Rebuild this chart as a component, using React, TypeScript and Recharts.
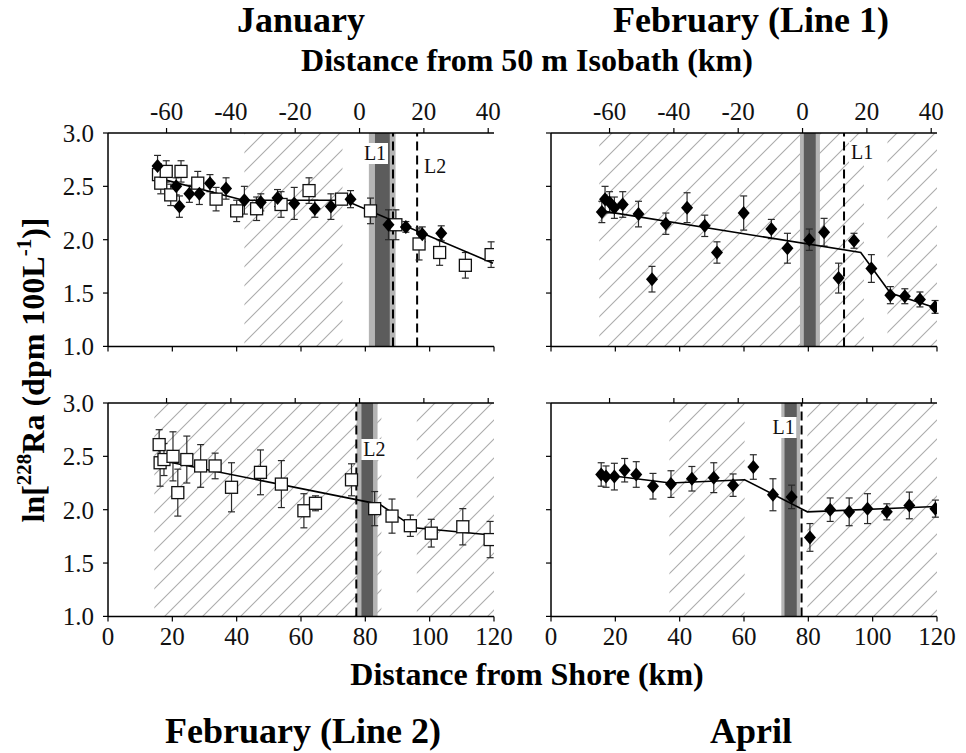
import React from 'react';
import {
  ComposedChart,
  Scatter,
  XAxis,
  YAxis,
  ErrorBar,
  ReferenceArea,
  ReferenceLine,
} from 'recharts';

// ---------- data ----------
const SHORE_TICKS = [0, 20, 40, 60, 80, 100, 120];
const ISOBATH_TICKS = [-60, -40, -20, 0, 20, 40];
const Y_TICKS = [1.0, 1.5, 2.0, 2.5, 3.0];
const ISOBATH_OFFSET = 78.2; // shore km at the 50 m isobath

type Pt = [number, number, number]; // [km from shore, ln Ra-228, error]

const janDiamonds: Pt[] = [
  [15.4, 2.69, 0.1], [21.2, 2.5, 0.08], [22.2, 2.31, 0.1], [25.3, 2.43, 0.08],
  [28.4, 2.43, 0.1], [31.7, 2.53, 0.08], [36.7, 2.48, 0.1], [42.4, 2.37, 0.13],
  [47.5, 2.35, 0.08], [52.7, 2.39, 0.08], [57.9, 2.34, 0.15], [64.3, 2.29, 0.08],
  [69.3, 2.31, 0.12], [75.4, 2.38, 0.08], [87.2, 2.14, 0.14], [92.6, 2.12, 0.05],
  [97.7, 2.05, 0.07], [103.6, 2.06, 0.07],
];
const janSquares: Pt[] = [
  [15.7, 2.61, 0.1], [16.4, 2.53, 0.1], [18.1, 2.64, 0.1], [19.5, 2.42, 0.1],
  [22.7, 2.64, 0.1], [27.9, 2.53, 0.11], [33.6, 2.38, 0.11], [40.0, 2.27, 0.1],
  [46.2, 2.29, 0.11], [53.8, 2.33, 0.12], [62.5, 2.46, 0.12], [72.6, 2.38, 0.04],
  [81.6, 2.27, 0.12], [89.5, 2.14, 0.14], [96.7, 1.96, 0.15], [103.1, 1.88, 0.12],
  [111.1, 1.76, 0.12], [119.1, 1.86, 0.12],
];
const janFit: [number, number][] = [[16.5, 2.57], [42.1, 2.37], [73.6, 2.37], [119.7, 1.78]];

const febL1Diamonds: Pt[] = [
  [15.8, 2.26, 0.1], [16.8, 2.38, 0.12], [18.2, 2.35, 0.1], [19.7, 2.3, 0.1],
  [22.3, 2.33, 0.12], [27.2, 2.24, 0.12], [31.4, 1.63, 0.12], [35.7, 2.15, 0.1],
  [42.3, 2.3, 0.14], [47.8, 2.13, 0.1], [51.6, 1.88, 0.1], [59.9, 2.25, 0.16],
  [68.5, 2.1, 0.09], [73.5, 1.92, 0.14], [80.3, 2.0, 0.1], [84.9, 2.07, 0.13],
  [89.4, 1.64, 0.14], [94.2, 1.99, 0.07], [99.6, 1.73, 0.13], [105.5, 1.48, 0.08],
  [110.0, 1.47, 0.07], [114.7, 1.44, 0.07], [119.4, 1.37, 0.06],
];
const febL1Fit: [number, number][] = [[15.8, 2.27], [96.3, 1.88], [105.5, 1.5], [119.7, 1.36]];

const febL2Squares: Pt[] = [
  [15.9, 2.61, 0.14], [16.2, 2.44, 0.22], [17.4, 2.47, 0.15], [20.2, 2.5, 0.23],
  [21.7, 2.16, 0.22], [24.5, 2.47, 0.22], [28.8, 2.41, 0.2], [33.3, 2.41, 0.12],
  [38.4, 2.21, 0.23], [47.4, 2.35, 0.21], [53.9, 2.24, 0.22], [60.9, 1.99, 0.16],
  [64.5, 2.06, 0.07], [75.7, 2.28, 0.15], [82.9, 2.01, 0.16], [88.3, 1.94, 0.16],
  [94.0, 1.85, 0.1], [100.5, 1.78, 0.13], [110.3, 1.84, 0.17], [118.8, 1.72, 0.17],
];
const febL2Fit: [number, number][] = [[15.0, 2.47], [84.5, 2.05], [95.3, 1.83], [120, 1.76]];

const aprDiamonds: Pt[] = [
  [15.6, 2.33, 0.11], [17.1, 2.31, 0.1], [19.7, 2.31, 0.125], [22.9, 2.37, 0.11],
  [26.5, 2.33, 0.12], [31.7, 2.22, 0.12], [37.3, 2.24, 0.125], [43.8, 2.29, 0.115],
  [50.6, 2.3, 0.14], [56.6, 2.23, 0.105], [62.9, 2.4, 0.115], [69.0, 2.14, 0.15],
  [74.8, 2.12, 0.11], [80.5, 1.74, 0.13], [86.8, 2.0, 0.11], [92.7, 1.98, 0.13],
  [98.4, 2.01, 0.14], [104.4, 1.98, 0.075], [111.4, 2.04, 0.125], [119.5, 2.01, 0.08],
];
const aprFit: [number, number][] = [[15.8, 2.33], [37.1, 2.25], [60.2, 2.28], [79.7, 1.98], [119.7, 2.03]];

// hatched regions, shaded bands, dashed transect lines (km from shore)
const janHatch: [number, number][] = [[42.4, 72.9]];
const febL1Hatch: [number, number][] = [[15.0, 97.3], [104.6, 120]];
const febL2Hatch: [number, number][] = [[14.4, 85.0], [96.0, 120]];
const aprHatch: [number, number][] = [[36.8, 60.2], [79.7, 120]];

const janBand = { light: [81.1, 89.4], dark: [83.0, 87.6] };
const febL1Band = { light: [77.4, 83.6], dark: [78.6, 82.3] };
const febL2Band = { light: [77.3, 83.8], dark: [78.8, 82.4] };
const aprBand = { light: [71.6, 77.4], dark: [72.6, 76.4] };

type Mark = { x: number; label: string; side: 'left' | 'right'; dy: number };
const janMarks: Mark[] = [
  { x: 88.6, label: 'L1', side: 'left', dy: 27 },
  { x: 96.1, label: 'L2', side: 'right', dy: 40 },
];
const febL1Marks: Mark[] = [{ x: 91.1, label: 'L1', side: 'right', dy: 26 }];
const febL2Marks: Mark[] = [{ x: 77.2, label: 'L2', side: 'right', dy: 53 }];
const aprMarks: Mark[] = [{ x: 77.9, label: 'L1', side: 'left', dy: 31 }];

// ---------- layout ----------
const SERIF = '"Liberation Serif", "Times New Roman", Times, serif';
const PLOT_W = 386;
const PLOT_H = 213.4;
const Y_W = 70;
const X_H = 40;
const RIGHT_M = 30;

const toPts = (a: Pt[]) => a.map(([x, y, e]) => ({ x, y, e }));
const toFit = (a: [number, number][]) => a.map(([x, y]) => ({ x, y }));

const Diamond = (p: any) => {
  const { cx, cy } = p;
  if (cx == null || cy == null) return <g />;
  return (
    <polygon
      points={`${cx},${cy - 7} ${cx + 6},${cy} ${cx},${cy + 7} ${cx - 6},${cy}`}
      fill="#000"
    />
  );
};
const Square = (p: any) => {
  const { cx, cy } = p;
  if (cx == null || cy == null) return <g />;
  return <rect x={cx - 6} y={cy - 6} width={12} height={12} fill="#fff" stroke="#111" strokeWidth={1.3} />;
};
const Nothing = () => <g />;

const markLabel = (m: Mark) => (props: any) => {
  const vb = props.viewBox || {};
  const x = vb.x ?? 0;
  const y = vb.y ?? 0;
  const w = 26;
  const tx = m.side === 'left' ? x - 5 - w : x + 5;
  return (
    <g>
      <rect x={tx} y={y + m.dy - 17} width={w} height={21} fill="#fff" />
      <text x={tx + w / 2} y={y + m.dy} textAnchor="middle" fontFamily={SERIF} fontSize={20} fill="#111">
        {m.label}
      </text>
    </g>
  );
};

type Series = { data: Pt[]; kind: 'diamond' | 'square' };

type PanelProps = {
  id: string;
  plotLeft: number;
  plotTop: number;
  topLabels: boolean;
  bottomLabels: boolean;
  yLabels: boolean;
  hatch: [number, number][];
  band: { light: number[]; dark: number[] };
  marks: Mark[];
  series: Series[];
  fit: [number, number][];
};

const tickStyle = { fontFamily: SERIF, fontSize: 25, fill: '#111' };
const axisLineStyle = { stroke: '#000', strokeWidth: 1.5 };
const tickLineStyle = { stroke: '#000', strokeWidth: 1.2 };
const blank = () => '';
// top axis shares the shore-distance scale; its ticks sit at the isobath distances
const ISO_TICK_POS = ISOBATH_TICKS.map((t) => t + ISOBATH_OFFSET);
const isoFormat = (v: number) => String(Math.round(v - ISOBATH_OFFSET));

function Panel(props: PanelProps) {
  const { id, plotLeft, plotTop, topLabels, bottomLabels, yLabels, hatch, band, marks, series, fit } = props;
  const W = Y_W + PLOT_W + RIGHT_M;
  const H = PLOT_H + 2 * X_H;
  const patId = `hatch-${id}`;
  return (
    <div style={{ position: 'absolute', left: plotLeft - Y_W, top: plotTop - X_H, width: W, height: H }}>
      <ComposedChart
        width={W}
        height={H}
        data={toFit(fit)}
        margin={{ top: 0, right: RIGHT_M, bottom: 0, left: 0 }}
      >
        <defs>
          <pattern id={patId} patternUnits="userSpaceOnUse" width={19} height={19}>
            <path d="M-1,1 L1,-1 M0,19 L19,0 M18,20 L20,18" stroke="#ababab" strokeWidth={1.1} fill="none" />
          </pattern>
        </defs>
        <XAxis
          xAxisId="shore"
          type="number"
          dataKey="x"
          orientation="bottom"
          domain={[0, 120]}
          ticks={SHORE_TICKS}
          allowDataOverflow
          height={X_H}
          tick={tickStyle}
          tickFormatter={bottomLabels ? (v: number) => String(v) : blank}
          tickSize={5}
          tickMargin={6}
          axisLine={axisLineStyle}
          tickLine={tickLineStyle}
          interval={0}
        />
        <XAxis
          xAxisId="iso"
          type="number"
          dataKey="x"
          orientation="top"
          domain={[0, 120]}
          ticks={ISO_TICK_POS}
          allowDataOverflow
          height={X_H}
          tick={tickStyle}
          tickFormatter={topLabels ? isoFormat : blank}
          tickSize={5}
          tickMargin={8}
          axisLine={axisLineStyle}
          tickLine={tickLineStyle}
          interval={0}
        />
        <YAxis
          yAxisId="v"
          type="number"
          dataKey="y"
          domain={[1, 3]}
          ticks={Y_TICKS}
          allowDataOverflow
          width={Y_W}
          tick={tickStyle}
          tickFormatter={yLabels ? (v: number) => v.toFixed(1) : blank}
          tickSize={5}
          tickMargin={9}
          axisLine={axisLineStyle}
          tickLine={tickLineStyle}
          interval={0}
        />
        {hatch.map(([a, b], i) => (
          <ReferenceArea
            key={`h${i}`}
            xAxisId="shore"
            yAxisId="v"
            x1={a}
            x2={b}
            fill={`url(#${patId})`}
            fillOpacity={1}
            stroke="none"
            ifOverflow="hidden"
          />
        ))}
        <ReferenceArea
          xAxisId="shore"
          yAxisId="v"
          x1={band.light[0]}
          x2={band.light[1]}
          fill="#b5b5b5"
          fillOpacity={1}
          stroke="none"
        />
        <ReferenceArea
          xAxisId="shore"
          yAxisId="v"
          x1={band.dark[0]}
          x2={band.dark[1]}
          fill="#5c5c5c"
          fillOpacity={1}
          stroke="none"
        />
        {marks.map((m, i) => (
          <ReferenceLine
            key={`m${i}`}
            xAxisId="shore"
            yAxisId="v"
            x={m.x}
            stroke="#000"
            strokeWidth={2}
            strokeDasharray="9 5"
            label={markLabel(m)}
          />
        ))}
        <Scatter
          xAxisId="shore"
          yAxisId="v"
          data={toFit(fit)}
          dataKey="y"
          line={{ stroke: '#000', strokeWidth: 1.6 }}
          shape={Nothing}
          isAnimationActive={false}
          legendType="none"
        />
        {series.map((s, i) => (
          <Scatter
            key={`e${i}`}
            xAxisId="shore"
            yAxisId="v"
            data={toPts(s.data)}
            dataKey="y"
            shape={Nothing}
            isAnimationActive={false}
            legendType="none"
          >
            <ErrorBar dataKey="e" direction="y" width={3.5} stroke="#2a2a2a" strokeWidth={1.2} isAnimationActive={false} />
          </Scatter>
        ))}
        {series.map((s, i) => (
          <Scatter
            key={`s${i}`}
            xAxisId="shore"
            yAxisId="v"
            data={toPts(s.data)}
            dataKey="y"
            shape={s.kind === 'diamond' ? Diamond : Square}
            isAnimationActive={false}
            legendType="none"
          />
        ))}
      </ComposedChart>
    </div>
  );
}

export default function App() {
  const LEFT_X = 108;
  const RIGHT_X = 551;
  const TOP_Y = 133.3;
  const BOT_Y = 403.3;
  const boldTitle = { fontFamily: SERIF, fontWeight: 700, fill: '#000' } as const;
  return (
    <div style={{ position: 'absolute', left: 0, top: 0, width: 966, height: 753, background: '#fff', overflow: 'hidden' }}>
      <Panel
        id="jan"
        plotLeft={LEFT_X}
        plotTop={TOP_Y}
        topLabels
        bottomLabels={false}
        yLabels
        hatch={janHatch}
        band={janBand}
        marks={janMarks}
        series={[
          { data: janSquares, kind: 'square' },
          { data: janDiamonds, kind: 'diamond' },
        ]}
        fit={janFit}
      />
      <Panel
        id="febl1"
        plotLeft={RIGHT_X}
        plotTop={TOP_Y}
        topLabels
        bottomLabels={false}
        yLabels={false}
        hatch={febL1Hatch}
        band={febL1Band}
        marks={febL1Marks}
        series={[{ data: febL1Diamonds, kind: 'diamond' }]}
        fit={febL1Fit}
      />
      <Panel
        id="febl2"
        plotLeft={LEFT_X}
        plotTop={BOT_Y}
        topLabels={false}
        bottomLabels
        yLabels
        hatch={febL2Hatch}
        band={febL2Band}
        marks={febL2Marks}
        series={[{ data: febL2Squares, kind: 'square' }]}
        fit={febL2Fit}
      />
      <Panel
        id="apr"
        plotLeft={RIGHT_X}
        plotTop={BOT_Y}
        topLabels={false}
        bottomLabels
        yLabels={false}
        hatch={aprHatch}
        band={aprBand}
        marks={aprMarks}
        series={[{ data: aprDiamonds, kind: 'diamond' }]}
        fit={aprFit}
      />
      <svg width={966} height={753} style={{ position: 'absolute', left: 0, top: 0, pointerEvents: 'none' }}>
        <text x={301} y={32} textAnchor="middle" fontSize={36} {...boldTitle}>January</text>
        <text x={751} y={32} textAnchor="middle" fontSize={36} {...boldTitle}>February (Line 1)</text>
        <text x={527} y={71} textAnchor="middle" fontSize={32} {...boldTitle}>Distance from 50 m Isobath (km)</text>
        <text x={527} y={685} textAnchor="middle" fontSize={32} {...boldTitle}>Distance from Shore (km)</text>
        <text x={303} y={743} textAnchor="middle" fontSize={36} {...boldTitle}>February (Line 2)</text>
        <text x={751} y={743} textAnchor="middle" fontSize={36} {...boldTitle}>April</text>
        <text transform="translate(44,370) rotate(-90)" textAnchor="middle" fontSize={32} {...boldTitle}>
          ln[
          <tspan fontSize={21} dy={-13}>228</tspan>
          <tspan dy={13}>Ra (dpm 100L</tspan>
          <tspan fontSize={21} dy={-13}>-1</tspan>
          <tspan dy={13}>)]</tspan>
        </text>
      </svg>
    </div>
  );
}
